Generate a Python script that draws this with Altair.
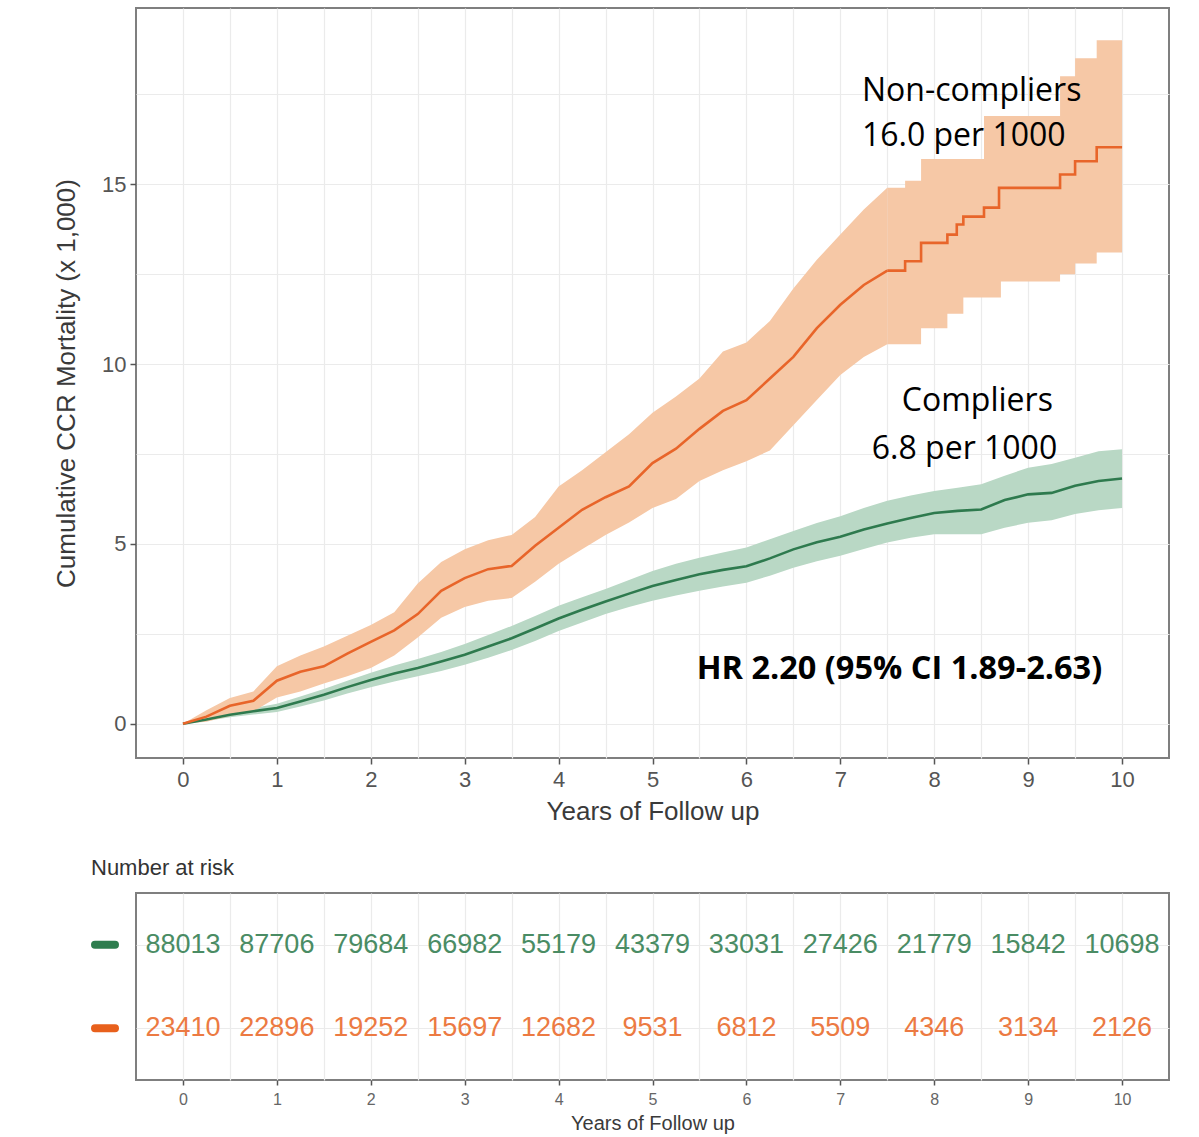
import altair as alt
import pandas as pd

# ---------------- data ----------------
# Non-compliers, early part (finely stepped -> drawn as a line through readings)
non_t_early = [0.0, 0.25, 0.5, 0.75, 1.0, 1.25, 1.5, 1.75, 2.0, 2.25, 2.5, 2.75,
               3.0, 3.25, 3.5, 3.75, 4.0, 4.25, 4.5, 4.75, 5.0, 5.25, 5.5, 5.75,
               6.0, 6.25, 6.5, 6.75, 7.0, 7.25, 7.5]
non_est_early = [0, 0.2, 0.5, 0.64, 1.2, 1.45, 1.6, 1.95, 2.28, 2.6, 3.05, 3.7,
                 4.05, 4.3, 4.39, 4.95, 5.45, 5.95, 6.3, 6.6, 7.25, 7.65, 8.2, 8.7,
                 9.0, 9.6, 10.2, 11.0, 11.65, 12.2, 12.6]
non_hi_early = [0, 0.38, 0.72, 0.9, 1.6, 1.9, 2.15, 2.45, 2.75, 3.1, 3.9, 4.5,
                4.85, 5.1, 5.25, 5.75, 6.6, 7.05, 7.55, 8.05, 8.65, 9.1, 9.6, 10.35,
                10.6, 11.2, 12.1, 12.9, 13.6, 14.3, 14.9]
non_lo_early = [0, 0.06, 0.22, 0.35, 0.73, 0.9, 1.12, 1.32, 1.55, 1.9, 2.4, 2.95,
                3.25, 3.42, 3.5, 3.95, 4.45, 4.85, 5.25, 5.6, 6.0, 6.25, 6.75, 7.05,
                7.3, 7.6, 8.3, 9.0, 9.7, 10.2, 10.55]
# Non-compliers, late part (coarse steps)
non_t_late = [7.5, 7.69, 7.86, 8.14, 8.24, 8.31, 8.53, 8.69, 8.71, 9.34, 9.5, 9.73, 10.0]
non_est_late = [12.6, 12.86, 13.37, 13.6, 13.88, 14.1, 14.35, 14.9, 14.9, 15.27, 15.64, 16.03, 16.03]
non_hi_late = [14.9, 15.1, 15.7, 15.7, 15.7, 15.7, 16.9, 16.9, 16.9, 18.0, 18.5, 19.0, 19.0]
non_lo_late = [10.55, 10.55, 11.0, 11.4, 11.4, 11.85, 11.85, 11.85, 12.3, 12.5, 12.8, 13.1, 13.1]

# Compliers
comp_t = [0.0, 0.25, 0.5, 0.75, 1.0, 1.25, 1.5, 1.75, 2.0, 2.25, 2.5, 2.75, 3.0,
          3.25, 3.5, 3.75, 4.0, 4.25, 4.5, 4.75, 5.0, 5.25, 5.5, 5.75, 6.0, 6.25,
          6.5, 6.75, 7.0, 7.25, 7.5, 7.75, 8.0, 8.25, 8.5, 8.75, 9.0, 9.25, 9.5,
          9.75, 10.0]
comp_est = [0, 0.12, 0.25, 0.35, 0.44, 0.62, 0.81, 1.02, 1.22, 1.4, 1.55, 1.73,
            1.92, 2.15, 2.38, 2.65, 2.93, 3.17, 3.4, 3.62, 3.83, 4.0, 4.16, 4.28,
            4.38, 4.6, 4.85, 5.05, 5.2, 5.4, 5.57, 5.72, 5.86, 5.92, 5.96, 6.22,
            6.38, 6.42, 6.62, 6.75, 6.82]
comp_hi = [0, 0.16, 0.32, 0.44, 0.56, 0.76, 0.97, 1.2, 1.42, 1.62, 1.8, 2.0, 2.22,
           2.47, 2.72, 3.0, 3.28, 3.52, 3.75, 4.0, 4.25, 4.45, 4.62, 4.76, 4.9,
           5.13, 5.36, 5.58, 5.77, 6.0, 6.2, 6.35, 6.47, 6.56, 6.66, 6.9, 7.12,
           7.22, 7.4, 7.58, 7.63]
comp_lo = [0, 0.08, 0.18, 0.26, 0.33, 0.48, 0.65, 0.84, 1.02, 1.18, 1.32, 1.47,
           1.64, 1.84, 2.05, 2.3, 2.58, 2.82, 3.05, 3.25, 3.42, 3.57, 3.7, 3.82,
           3.92, 4.12, 4.34, 4.52, 4.67, 4.86, 5.04, 5.17, 5.27, 5.27, 5.27, 5.45,
           5.59, 5.66, 5.83, 5.94, 6.0]

groups = ["Compliers", "Non-compliers"]
comp_line_color = "#2E7A4E"
non_line_color = "#E8652A"
comp_band_color = "#B9D8C5"
non_band_color = "#F6C8A6"
risk_text_colors = ["#4A8C64", "#EC7A42"]
swatch_colors = ["#2E7D4E", "#E8601C"]

years = [0, 1, 2, 3, 4, 5, 6, 7, 8, 9, 10]
risk_compliers = [88013, 87706, 79684, 66982, 55179, 43379, 33031, 27426, 21779, 15842, 10698]
risk_non = [23410, 22896, 19252, 15697, 12682, 9531, 6812, 5509, 4346, 3134, 2126]

x_axis_values = [0, 0.5, 1, 1.5, 2, 2.5, 3, 3.5, 4, 4.5, 5, 5.5, 6, 6.5, 7, 7.5,
                 8, 8.5, 9, 9.5, 10]
y_axis_values = [0, 2.5, 5, 7.5, 10, 12.5, 15, 17.5]

ann_text = ["Non-compliers", "16.0 per 1000", "Compliers", "6.8 per 1000"]
ann_x = [7.23, 7.23, 7.655, 7.335]
ann_y = [17.6, 16.35, 8.97, 7.64]
hr_text = ["HR 2.20 (95% CI 1.89-2.63)"]
hr_x = [5.47]
hr_y = [1.53]

# ---------------- tables ----------------
comp_df = pd.DataFrame({"t": comp_t, "est": comp_est, "lo": comp_lo, "hi": comp_hi})
non_early_df = pd.DataFrame({"t": non_t_early, "est": non_est_early, "lo": non_lo_early, "hi": non_hi_early})
non_late_df = pd.DataFrame({"t": non_t_late, "est": non_est_late, "lo": non_lo_late, "hi": non_hi_late})
risk = pd.concat([
    pd.DataFrame({"group": "Compliers", "year": years, "n": [str(v) for v in risk_compliers]}),
    pd.DataFrame({"group": "Non-compliers", "year": years, "n": [str(v) for v in risk_non]}),
])
ann = pd.DataFrame({"x": ann_x, "y": ann_y, "text": ann_text})
hr = pd.DataFrame({"x": hr_x, "y": hr_y, "text": hr_text})

FONT = "Liberation Sans"
GRID = "#EBEBEB"

x_scale = alt.Scale(domain=[-0.5, 10.5], nice=False, zero=False)
y_scale = alt.Scale(domain=[-0.95, 19.9], nice=False, zero=False)

int_label = "datum.value % 1 == 0 ? format(datum.value, 'd') : ''"

x_axis_main = alt.Axis(
    values=x_axis_values, labelExpr=int_label,
    title="Years of Follow up", titleFont=FONT, titleFontSize=26, titleFontWeight="normal",
    titleColor="#3A3A3A", titlePadding=8,
    labelFont=FONT, labelFontSize=22, labelColor="#555555", labelPadding=5,
    tickSize=6, tickColor="#555555", tickWidth=1.5,
    tickOpacity={"condition": {"test": "datum.value % 1 == 0", "value": 1}, "value": 0},
    grid=True, gridColor=GRID, gridWidth=1.2, domain=False,
)
y_axis_main = alt.Axis(
    values=y_axis_values, labelExpr="datum.value % 5 == 0 ? format(datum.value, 'd') : ''",
    title="Cumulative CCR Mortality (x 1,000)", titleFont=FONT, titleFontSize=26,
    titleFontWeight="normal", titleColor="#3A3A3A", titlePadding=22,
    labelFont=FONT, labelFontSize=22, labelColor="#555555", labelPadding=4,
    tickSize=6, tickColor="#555555", tickWidth=1.5,
    tickOpacity={"condition": {"test": "datum.value % 5 == 0", "value": 1}, "value": 0},
    grid=True, gridColor=GRID, gridWidth=1.2, domain=False,
)


def band(df, color, interp, axes=False):
    if axes:
        enc_x = alt.X("t:Q", scale=x_scale, axis=x_axis_main)
        enc_y = alt.Y("lo:Q", scale=y_scale, axis=y_axis_main)
    else:
        enc_x = alt.X("t:Q", scale=x_scale)
        enc_y = alt.Y("lo:Q", scale=y_scale)
    return alt.Chart(df).mark_area(interpolate=interp, color=color, opacity=1).encode(
        x=enc_x, y=enc_y, y2="hi:Q")


def curve(df, color, interp):
    return alt.Chart(df).mark_line(interpolate=interp, color=color, strokeWidth=2.6).encode(
        x=alt.X("t:Q", scale=x_scale), y=alt.Y("est:Q", scale=y_scale))


ann_layer = alt.Chart(ann).mark_text(
    font="Open Sans", fontSize=32, align="left", baseline="middle", color="#000000"
).encode(x=alt.X("x:Q", scale=x_scale), y=alt.Y("y:Q", scale=y_scale), text="text:N")
hr_layer = alt.Chart(hr).mark_text(
    font="Open Sans", fontSize=32.5, fontWeight="bold", align="left", baseline="middle", color="#000000"
).encode(x=alt.X("x:Q", scale=x_scale), y=alt.Y("y:Q", scale=y_scale), text="text:N")

main = alt.layer(
    band(comp_df, comp_band_color, "linear", axes=True),
    band(non_early_df, non_band_color, "linear"),
    band(non_late_df, non_band_color, "step-after"),
    curve(comp_df, comp_line_color, "linear"),
    curve(non_early_df, non_line_color, "linear"),
    curve(non_late_df, non_line_color, "step-after"),
    ann_layer, hr_layer,
).properties(width=1033, height=750)

# ---------------- risk table ----------------
x_axis_risk = alt.Axis(
    values=x_axis_values, labelExpr=int_label,
    title="Years of Follow up", titleFont=FONT, titleFontSize=20, titleFontWeight="normal",
    titleColor="#3A3A3A", titlePadding=6,
    labelFont=FONT, labelFontSize=16, labelColor="#666666", labelPadding=6,
    tickSize=5, tickColor="#555555", tickWidth=1.5,
    tickOpacity={"condition": {"test": "datum.value % 1 == 0", "value": 1}, "value": 0},
    grid=True, gridColor=GRID, gridWidth=1.2, domain=False,
)
y_risk_scale = alt.Scale(domain=groups, type="point", padding=0.62)

risk_text = alt.Chart(risk).mark_text(font=FONT, fontSize=27).encode(
    x=alt.X("year:Q", scale=x_scale, axis=x_axis_risk),
    y=alt.Y("group:N", scale=y_risk_scale,
            axis=alt.Axis(grid=True, gridColor=GRID, gridWidth=1.2, labels=False,
                          ticks=False, domain=False, title=None)),
    color=alt.Color("group:N", scale=alt.Scale(domain=groups, range=risk_text_colors), legend=None),
    text="n:N",
)
swatch = alt.Chart(pd.DataFrame({"group": groups})).mark_rule(
    strokeWidth=8, strokeCap="round"
).encode(
    x=alt.value(-41), x2=alt.value(-21),
    y=alt.Y("group:N", scale=y_risk_scale),
    stroke=alt.Stroke("group:N", scale=alt.Scale(domain=groups, range=swatch_colors), legend=None),
)
risk_chart = alt.layer(risk_text, swatch).resolve_scale(
    color="independent", stroke="independent"
).properties(
    width=1033, height=187,
    title=alt.TitleParams("Number at risk", anchor="start", font=FONT, fontSize=22,
                          fontWeight="normal", color="#333333", offset=13),
)

chart = alt.vconcat(main, risk_chart, spacing=31).properties(
    padding={"left": 52, "top": 7, "right": 5, "bottom": 5},
    background="#FFFFFF",
).configure_view(stroke="#7F7F7F", strokeWidth=2)

chart.save("out.html", embed_options={"renderer": "svg", "actions": False})
